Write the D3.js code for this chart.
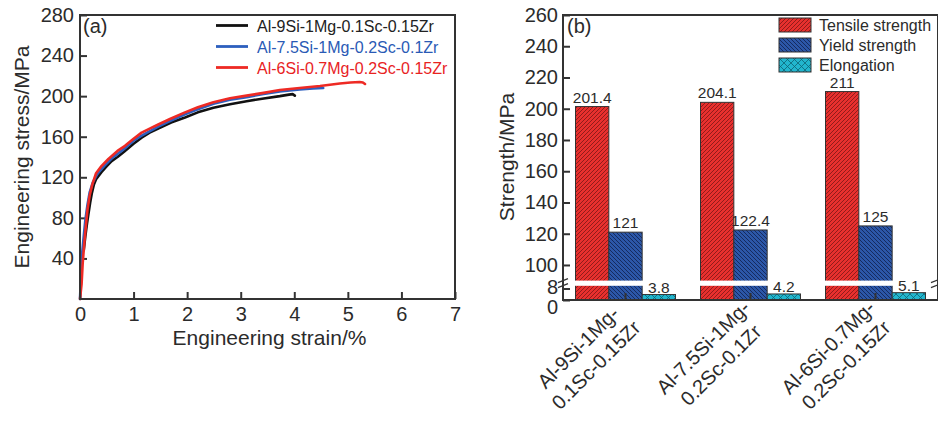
<!DOCTYPE html>
<html>
<head>
<meta charset="utf-8">
<script src="https://cdn.jsdelivr.net/npm/d3@7"></script>
<style>
  html, body { margin: 0; padding: 0; background: #fff; }
  svg { display: block; font-family: "Liberation Sans", Arial, sans-serif; }
</style>
</head>
<body>
<svg id="chart" width="938" height="423"></svg>
<script>
// ---------------- DATA ----------------
// Panel (a): engineering stress-strain curves  [strain %, stress MPa]
const alloyNames = ["Al-9Si-1Mg-0.1Sc-0.15Zr", "Al-7.5Si-1Mg-0.2Sc-0.1Zr", "Al-6Si-0.7Mg-0.2Sc-0.15Zr"];
const curveAl9Si = [[0.07,48],[0.1,62],[0.13,74],[0.155,83],[0.19,95],[0.22,104],[0.26,113],[0.3,118],[0.4,125],[0.5,131],[0.59,136],[0.7,140],[0.84,146],[1.0,153],[1.15,159],[1.3,164],[1.46,168],[1.7,174],[1.96,179],[2.2,184],[2.49,188.5],[2.8,192],[3.11,195],[3.4,197.5],[3.73,200],[3.9,201.5],[3.97,202],[4.01,200.5]];
const curveAl75Si = [[0,0],[0.02,25],[0.04,45],[0.07,62],[0.1,78],[0.14,93],[0.18,105],[0.24,115],[0.32,123],[0.45,131],[0.6,139],[0.8,147],[1.0,156],[1.15,161],[1.46,170],[1.7,176],[1.96,182],[2.2,187],[2.49,192.5],[2.8,196.5],[3.11,199],[3.4,202],[3.73,204.5],[4.1,206.5],[4.35,207.5],[4.54,208]];
const curveAl6Si = [[0,0],[0.03,15],[0.05,35],[0.08,55],[0.11,72],[0.14,88],[0.18,102],[0.23,113],[0.3,124],[0.4,131],[0.53,138],[0.7,146],[0.84,151],[1.0,158],[1.15,164],[1.3,168],[1.46,172],[1.7,178],[1.96,184],[2.2,189],[2.49,194],[2.8,198],[3.11,200.5],[3.4,203],[3.73,206],[4.1,208],[4.48,210],[4.85,212.5],[5.05,213.5],[5.22,214],[5.28,213.5],[5.32,212]];
const curveColors = ["#111111", "#2d5fbe", "#ee2a24"];
const legendTextColors = ["#222222", "#2a5ab5", "#e8231f"];
const strainTicks = [0,1,2,3,4,5,6,7];
const stressTicks = [40,80,120,160,200,240,280];

// Panel (b): strengths and elongation
const categories = ["Al-9Si-1Mg-0.1Sc-0.15Zr", "Al-7.5Si-1Mg-0.2Sc-0.1Zr", "Al-6Si-0.7Mg-0.2Sc-0.15Zr"];
const catLine1 = ["Al-9Si-1Mg-", "Al-7.5Si-1Mg-", "Al-6Si-0.7Mg-"];
const catLine2 = ["0.1Sc-0.15Zr", "0.2Sc-0.1Zr", "0.2Sc-0.15Zr"];
const seriesNames = ["Tensile strength", "Yield strength", "Elongation"];
const tensile = [201.4, 204.1, 211];
const yieldStrength = [121, 122.4, 125];
const elongation = [3.8, 4.2, 5.1];
const valueLabels = [["201.4","204.1","211"], ["121","122.4","125"], ["3.8","4.2","5.1"]];
const upperTicks = [100,120,140,160,180,200,220,240,260];
const lowerTicks = [0, 8];

// ---------------- SETUP ----------------
const svg = d3.select("#chart");
const ink = "#2b2b2b";
const frameColor = "#333";

const defs = svg.append("defs");
function hatch(id, size, bg, path, stroke, sw) {
  const p = defs.append("pattern").attr("id", id).attr("patternUnits", "userSpaceOnUse")
    .attr("width", size).attr("height", size);
  p.append("rect").attr("width", size).attr("height", size).attr("fill", bg);
  p.append("path").attr("d", path).attr("stroke", stroke).attr("stroke-width", sw).attr("fill", "none");
}
hatch("pRed", 4, "#e8302e", "M0,4 L4,0 M-1,1 L1,-1 M3,5 L5,3", "#7a1616", 0.8);
hatch("pBlue", 4, "#2c57a8", "M0,0 L4,4 M-1,3 L1,5 M3,-1 L5,1", "#0f1f4c", 0.8);
hatch("pCyan", 7, "#22b6ce", "M0,0 L7,7 M7,0 L0,7", "#0c6576", 0.8);
const fills = ["url(#pRed)", "url(#pBlue)", "url(#pCyan)"];

// ---------------- PANEL (a) ----------------
const ax = { l: 80, r: 455, t: 15, b: 299 };
const x = d3.scaleLinear().domain([0, 7]).range([ax.l, ax.r]);
const y = d3.scaleLinear().domain([0, 280]).range([ax.b, ax.t]);

const gA = svg.append("g");
const xAxisA = gA.append("g").attr("transform", `translate(0,${ax.b})`)
  .call(d3.axisBottom(x).tickValues(strainTicks).tickSize(-7).tickPadding(8).tickFormat(d3.format("d")));
const yAxisA = gA.append("g").attr("transform", `translate(${ax.l},0)`)
  .call(d3.axisLeft(y).tickValues(stressTicks).tickSize(-7).tickPadding(6).tickFormat(d3.format("d")));
[xAxisA, yAxisA].forEach(g => {
  g.select(".domain").remove();
  g.selectAll(".tick line").attr("stroke", frameColor).attr("stroke-width", 2);
  g.selectAll(".tick text").attr("fill", ink).attr("font-size", 20).attr("font-family", "Liberation Sans, Arial, sans-serif");
});

const line = d3.line().x(d => x(d[0])).y(d => y(d[1]));
[curveAl9Si, curveAl75Si, curveAl6Si].forEach((c, i) => {
  gA.append("path").datum(c).attr("d", line).attr("fill", "none")
    .attr("stroke", curveColors[i]).attr("stroke-width", 2.6).attr("stroke-linejoin", "round").attr("stroke-linecap", "round");
});

gA.append("rect").attr("x", ax.l).attr("y", ax.t).attr("width", ax.r - ax.l).attr("height", ax.b - ax.t)
  .attr("fill", "none").attr("stroke", frameColor).attr("stroke-width", 2);

gA.append("text").attr("x", 83).attr("y", 33).attr("font-size", 20).attr("fill", ink).text("(a)");

// legend (a)
alloyNames.forEach((n, i) => {
  const ly = 25.5 + i * 21;
  gA.append("line").attr("x1", 216).attr("x2", 248).attr("y1", ly).attr("y2", ly)
    .attr("stroke", curveColors[i]).attr("stroke-width", 2.8);
  gA.append("text").attr("x", 257).attr("y", ly + 6).attr("font-size", 16).attr("fill", legendTextColors[i]).text(n);
});

gA.append("text").attr("x", (ax.l + ax.r) / 2 + 2).attr("y", 345).attr("text-anchor", "middle")
  .attr("font-size", 21).attr("fill", ink).text("Engineering strain/%");
gA.append("text").attr("transform", `translate(29,${(ax.t + ax.b) / 2}) rotate(-90)`).attr("text-anchor", "middle")
  .attr("font-size", 21).attr("fill", ink).text("Engineering stress/MPa");

// ---------------- PANEL (b) ----------------
const bx = { l: 563, r: 938, t: 15, b: 300 };
const gapTop = 280.6, gapBottom = 285.8;
const yUp = d3.scaleLinear().domain([90, 260]).range([gapTop, bx.t]);
const yLo = d3.scaleLinear().domain([0, 8]).range([bx.b, 288.5]);
const x0 = d3.scaleBand().domain(categories).range([bx.l, bx.r]).paddingInner(0.2).paddingOuter(0.1);
const x1 = d3.scaleBand().domain(seriesNames).range([0, x0.bandwidth()]);

const gB = svg.append("g");
const seriesVals = [tensile, yieldStrength, elongation];

categories.forEach((cat, ci) => {
  seriesNames.forEach((s, si) => {
    const v = seriesVals[si][ci];
    const bxl = x0(cat) + x1(s);
    const w = x1.bandwidth();
    if (si < 2) {
      gB.append("rect").attr("x", bxl).attr("y", yUp(v)).attr("width", w).attr("height", bx.b - yUp(v))
        .attr("fill", fills[si]).attr("stroke", "#333").attr("stroke-width", 1);
      // white break band across the broken bar
      gB.append("rect").attr("x", bxl - 1).attr("y", gapTop).attr("width", w + 2).attr("height", gapBottom - gapTop)
        .attr("fill", "#fff");
      gB.append("text").attr("x", bxl + w / 2).attr("y", yUp(v) - 4).attr("text-anchor", "middle")
        .attr("font-size", 15.5).attr("fill", ink).text(valueLabels[si][ci]);
    } else {
      gB.append("rect").attr("x", bxl).attr("y", yLo(v)).attr("width", w).attr("height", bx.b - yLo(v))
        .attr("fill", fills[si]).attr("stroke", "#333").attr("stroke-width", 1);
      gB.append("text").attr("x", bxl + w / 2).attr("y", yLo(v) - 2).attr("text-anchor", "middle")
        .attr("font-size", 15.5).attr("fill", ink).text(valueLabels[si][ci]);
    }
  });
});

// axes (b)
const yAxUp = gB.append("g").attr("transform", `translate(${bx.l},0)`)
  .call(d3.axisLeft(yUp).tickValues(upperTicks).tickSize(-7).tickPadding(5).tickFormat(d3.format("d")));
const yAxLo = gB.append("g").attr("transform", `translate(${bx.l},0)`)
  .call(d3.axisLeft(yLo).tickValues(lowerTicks).tickSize(-7).tickPadding(5).tickFormat(d3.format("d")));
const xAxB = gB.append("g").attr("transform", `translate(0,${bx.b})`)
  .call(d3.axisBottom(x0).tickSize(-7).tickFormat(""));
[yAxUp, yAxLo, xAxB].forEach(g => {
  g.select(".domain").remove();
  g.selectAll(".tick line").attr("stroke", frameColor).attr("stroke-width", 2);
  g.selectAll(".tick text").attr("fill", ink).attr("font-size", 20).attr("font-family", "Liberation Sans, Arial, sans-serif");
});
yAxLo.selectAll(".tick text").filter(d => d === 0).attr("dy", "0.68em");
yAxLo.selectAll(".tick text").filter(d => d === 8).attr("dy", "0.26em");

// frame (b)
gB.append("path").attr("d", `M${bx.r},${bx.t} H${bx.l} V${bx.b} H${bx.r} V${bx.t}`)
  .attr("fill", "none").attr("stroke", frameColor).attr("stroke-width", 2);

// break marks
[bx.l, bx.r - 2].forEach(xx => {
  [0, 5].forEach(off => {
    gB.append("line").attr("x1", xx - 5).attr("y1", gapTop + 2 + off).attr("x2", xx + 5).attr("y2", gapTop - 2 + off)
      .attr("stroke", frameColor).attr("stroke-width", 1.2);
  });
});

// category labels
categories.forEach((cat, ci) => {
  const cx = x0(cat) + x0.bandwidth() / 2;
  const t = gB.append("text").attr("transform", `translate(${cx},${bx.b}) rotate(-45)`)
    .attr("text-anchor", "middle").attr("font-size", 20).attr("fill", ink);
  t.append("tspan").attr("x", -67).attr("y", 7).text(catLine1[ci]);
  t.append("tspan").attr("x", -67).attr("y", 32).text(catLine2[ci]);
});

gB.append("text").attr("x", 567).attr("y", 33).attr("font-size", 20).attr("fill", ink).text("(b)");
gB.append("text").attr("transform", `translate(514,157) rotate(-90)`).attr("text-anchor", "middle")
  .attr("font-size", 21).attr("fill", ink).text("Strength/MPa");

// legend (b)
seriesNames.forEach((s, i) => {
  const ty = 18 + i * 20;
  gB.append("rect").attr("x", 779).attr("y", ty).attr("width", 32).attr("height", 14)
    .attr("fill", fills[i]).attr("stroke", "#333").attr("stroke-width", 1);
  gB.append("text").attr("x", 819).attr("y", ty + 13).attr("font-size", 16).attr("fill", ink).text(s);
});
</script>
</body>
</html>
